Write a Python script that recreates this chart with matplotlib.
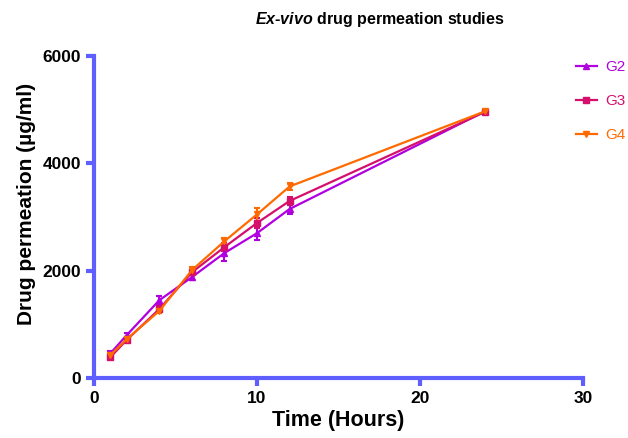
import matplotlib.pyplot as plt
from matplotlib.lines import Line2D

plt.rcParams['font.family'] = ['Liberation Sans', 'DejaVu Sans']
plt.rcParams['mathtext.fontset'] = 'custom'
plt.rcParams['mathtext.it'] = 'Liberation Sans:bold:italic'

# time points (hours)
hours = [1, 2, 4, 6, 8, 10, 12, 24]

# drug permeation (ug/ml) and SD
g2 = [460, 800, 1450, 1880, 2330, 2700, 3150, 4970]
g2_sd = [40, 40, 80, 60, 150, 130, 100, 20]
g3 = [390, 710, 1285, 1970, 2440, 2890, 3300, 4960]
g3_sd = [30, 40, 50, 50, 70, 90, 80, 20]
g4 = [430, 725, 1250, 2010, 2550, 3050, 3570, 4970]
g4_sd = [30, 40, 40, 60, 60, 120, 70, 20]

labels = ['G2', 'G3', 'G4']
colors = ['#B100E0', '#D4106C', '#FF6A00']
markers = ['^', 's', 'v']
axis_col = '#5F5FFF'

fig = plt.figure(figsize=(6.28, 4.38), dpi=100)
ax = fig.add_axes([0.150, 0.137, 0.778, 0.735])

handles = []
for y, sd, lab, c, m in zip([g2, g3, g4], [g2_sd, g3_sd, g4_sd], labels, colors, markers):
    ax.errorbar(hours, y, yerr=sd, color=c, marker=m, markersize=4, lw=1.6,
                capsize=2.5, elinewidth=1.5, capthick=1.5)
    handles.append(Line2D([], [], color=c, marker=m, markersize=4, lw=1.6, label=lab))

ax.set_xlim(0, 30)
ax.set_ylim(0, 6000)
ax.set_xticks([0, 10, 20, 30])
ax.set_yticks([0, 2000, 4000, 6000])

for s in ['top', 'right']:
    ax.spines[s].set_visible(False)
for s in ['left', 'bottom']:
    ax.spines[s].set_color(axis_col)
    ax.spines[s].set_linewidth(3)
ax.tick_params(axis='both', colors=axis_col, width=3, length=6, labelsize=12.5)
for t in ax.get_xticklabels() + ax.get_yticklabels():
    t.set_color('black')
    t.set_fontweight('bold')

ax.set_xlabel('Time (Hours)', fontsize=15.5, fontweight='bold', labelpad=3)
ax.set_ylabel('Drug permeation (µg/ml)', fontsize=15, fontweight='bold')
ax.yaxis.set_label_coords(-0.12, 0.54)
fig.text(0.605, 0.955, r'$\it{Ex}$-$\it{vivo}$ drug permeation studies', fontsize=11.5,
         fontweight='bold', ha='center', va='center')

leg = fig.legend(handles=handles, loc='upper left', bbox_to_anchor=(0.917, 0.862),
                 frameon=False, fontsize=11, handlelength=1.35, handletextpad=0.55,
                 labelspacing=1.3, borderaxespad=0, borderpad=0)
for txt, c in zip(leg.get_texts(), colors):
    txt.set_color(c)

fig.savefig('out.png', dpi=100)
